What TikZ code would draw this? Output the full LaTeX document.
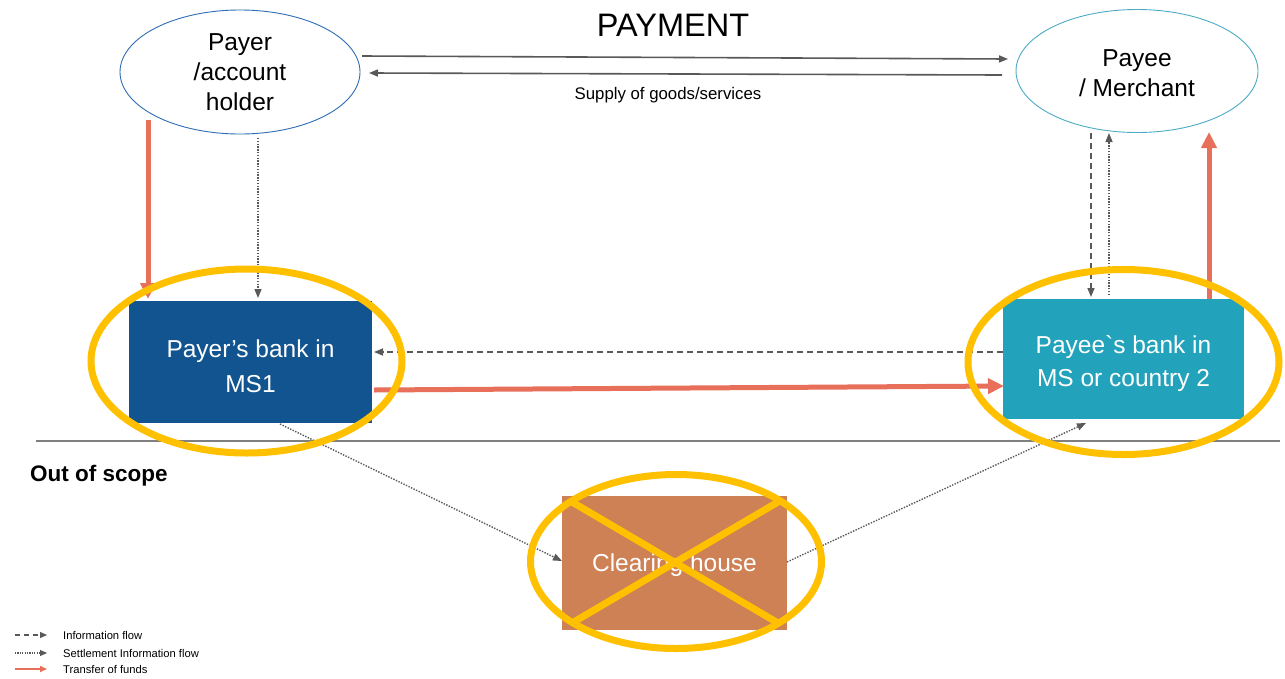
\documentclass[tikz,border=0pt]{standalone}
\usepackage{fontspec}
\setmainfont{Liberation Sans}
\usetikzlibrary{shapes.geometric,arrows.meta,calc}
\definecolor{cpayer}{RGB}{46,109,180}
\definecolor{cpayee}{RGB}{75,172,198}
\definecolor{cgray}{RGB}{89,89,89}
\definecolor{corange}{RGB}{232,112,90}
\definecolor{cyel}{RGB}{255,192,0}
\definecolor{cblue}{RGB}{17,84,143}
\definecolor{cteal}{RGB}{34,162,187}
\definecolor{cclear}{RGB}{205,129,85}
\definecolor{cline}{RGB}{127,127,127}
\newcommand{\plaingrave}{{\addfontfeatures{Ligatures=TeXOff}`}}
\begin{document}
\begin{tikzpicture}[x=1pt,y=-1pt,
  party/.style={ellipse,draw,line width=0.9pt,inner sep=0pt,align=center,
    font=\fontsize{24.5}{30}\selectfont},
  bank/.style={rectangle,inner sep=0pt,align=center,text=white,
    font=\fontsize{24.5}{35}\selectfont},
  hl/.style={ellipse,draw=cyel,line width=7pt,inner sep=0pt},
  garrow/.style={draw=cgray,line width=1.6pt,-{Triangle[length=9pt,width=7pt]}},
  infoflow/.style={draw=cgray,line width=1.5pt,dash pattern=on 6pt off 4pt,-{Triangle[length=9pt,width=7pt]},cgray},
  settleflow/.style={draw=cgray,line width=1.4pt,dash pattern=on 1.4pt off 1.4pt,-{Triangle[length=9pt,width=7pt]},cgray},
  funds/.style={draw=corange,line width=5pt,-{Triangle[length=16pt,width=15pt]},corange},
  legtext/.style={anchor=west,inner sep=0pt,font=\fontsize{11.2}{13}\selectfont}
]
\useasboundingbox (0,0) rectangle (1285,678);
\fill[white] (0,0) rectangle (1285,678);

% parties
\node[party,draw=cpayer,minimum width=240pt,minimum height=124pt] (payer) at (240,72) {Payer\\/account\\holder};
\node[party,draw=cpayee,minimum width=242pt,minimum height=123pt] (payee) at (1137,71) {\rule{0pt}{21pt}Payee\\/ Merchant};
\node[font=\fontsize{32.5}{36}\selectfont,inner sep=0pt] (paytitle) at (673,25) {PAYMENT};
\node[font=\fontsize{16.8}{20}\selectfont,inner sep=0pt] (supply) at (668,95) {Supply of goods/services};

% banks
\node[bank,fill=cblue,minimum width=243pt,minimum height=122pt] (pb) at (250.5,362) {\rule{0pt}{26pt}Payer’s bank in\\MS1};
\node[bank,fill=cteal,minimum width=241pt,minimum height=120pt,font=\fontsize{24.5}{33}\selectfont] (qb) at (1123.5,359) {\rule{0pt}{27pt}Payee\plaingrave s bank in\\MS or country 2};
\node[bank,fill=cclear,minimum width=225pt,minimum height=134pt] (ch) at (674.5,563) {\rule{0pt}{22pt}Clearing house};

% scope line
\coordinate (sl1) at (36,441);
\coordinate (sl2) at (1280,441);
\draw[cline,line width=2pt] (sl1) -- (sl2);
\node[anchor=west,inner sep=0pt,font=\bfseries\fontsize{22.5}{26}\selectfont] (oos) at (30,476) {Out of scope};

% top arrows
\coordinate (t1) at (362,56);
\coordinate (t2) at (1008,59);
\coordinate (t3) at (1002,75);
\coordinate (t4) at (369,73);
\draw[garrow] (t1) -- (t2);
\draw[garrow] (t3) -- (t4);

% payer side
\coordinate (f1s) at (148,120);
\coordinate (f1e) at (148,299);
\draw[funds] (f1s) -- (f1e);
\coordinate (d1s) at (258,138);
\coordinate (d1e) at (258,298);
\draw[settleflow] (d1s) -- (d1e);

% payee side
\coordinate (i2s) at (1091,133);
\coordinate (i2e) at (1091,297);
\draw[infoflow] (i2s) -- (i2e);
\coordinate (d2s) at (1109,295);
\coordinate (d2e) at (1109,133);
\draw[settleflow] (d2s) -- (d2e);
\coordinate (f3s) at (1209,299);
\coordinate (f3e) at (1209,132);
\draw[funds] (f3s) -- (f3e);

% between banks
\coordinate (i3s) at (1003,352);
\coordinate (i3e) at (374,352);
\draw[infoflow] (i3s) -- (i3e);
\coordinate (f2s) at (374,390);
\coordinate (f2e) at (1004,386);
\draw[funds] (f2s) -- (f2e);

% clearing flows
\coordinate (d3s) at (280,424);
\coordinate (d3e) at (562,561);
\draw[settleflow] (d3s) -- (d3e);
\coordinate (d4s) at (787,562);
\coordinate (d4e) at (1086,423);
\draw[settleflow] (d4s) -- (d4e);

% highlights
\node[hl,minimum width=311pt,minimum height=184pt] (hlpb) at (246.5,361) {};
\node[hl,minimum width=311pt,minimum height=185pt] (hlqb) at (1123.5,362) {};
\node[hl,minimum width=291pt,minimum height=174pt] (hlch) at (676,561.5) {};
\coordinate (x1) at (572,502);
\coordinate (x2) at (778,623);
\coordinate (x3) at (778,502);
\coordinate (x4) at (572,623);
\draw[cyel,line width=7pt] (x1) -- (x2);
\draw[cyel,line width=7pt] (x3) -- (x4);

% legend
\coordinate (l1s) at (15,635);
\coordinate (l1e) at (47,635);
\coordinate (l2s) at (15,653);
\coordinate (l2e) at (47,653);
\coordinate (l3s) at (15,669);
\coordinate (l3e) at (47,669);
\draw[cgray,line width=1.2pt,dash pattern=on 5pt off 4pt,-{Triangle[length=7pt,width=6pt]}] (l1s) -- (l1e);
\draw[cgray,line width=1.1pt,dash pattern=on 1.2pt off 1.2pt,-{Triangle[length=7pt,width=6pt]}] (l2s) -- (l2e);
\draw[corange,line width=1.6pt,-{Triangle[length=7pt,width=6pt]}] (l3s) -- (l3e);
\node[legtext] (lt1) at (63,635) {Information flow};
\node[legtext] (lt2) at (63,653) {Settlement Information flow};
\node[legtext] (lt3) at (63,669) {Transfer of funds};
\end{tikzpicture}
\end{document}
